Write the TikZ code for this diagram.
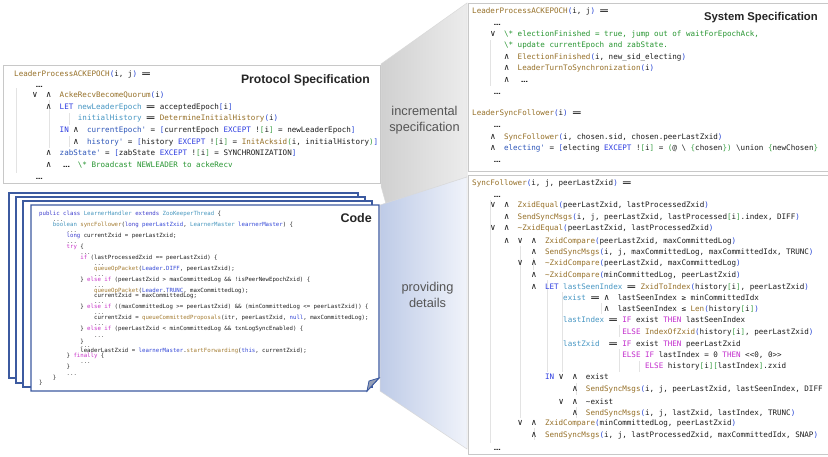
\documentclass[tikz,border=0pt]{standalone}
\usepackage{fontspec}
\usepackage{graphicx}
\setmonofont{DejaVu Sans Mono}
\newfontfamily\titlef{Liberation Sans}

\definecolor{txc}{RGB}{30,30,30}
\definecolor{opc}{RGB}{150,112,40}
\definecolor{parc}{RGB}{45,75,215}
\definecolor{brk2}{RGB}{60,160,70}
\definecolor{kwc}{RGB}{45,60,225}
\definecolor{ifc}{RGB}{195,45,205}
\definecolor{locc}{RGB}{70,150,195}
\definecolor{pvc}{RGB}{45,85,185}
\definecolor{cmc}{RGB}{40,150,50}
\definecolor{gA}{RGB}{208,208,208}
\definecolor{gB}{RGB}{236,236,236}
\definecolor{bA}{RGB}{190,203,231}
\definecolor{bB}{RGB}{240,243,250}
\definecolor{pagec}{RGB}{60,90,160}
\definecolor{foldc}{RGB}{150,160,182}
\definecolor{boxc}{RGB}{200,200,200}
\definecolor{lblc}{RGB}{85,85,85}
\definecolor{jkc}{RGB}{60,60,205}
\definecolor{jtc}{RGB}{70,150,190}
\definecolor{jfc}{RGB}{165,125,50}
\definecolor{jcc}{RGB}{200,50,200}
\definecolor{jbc}{RGB}{50,70,215}

\newlength\tcw
\setlength\tcw{4.55pt}
\newcommand\tOp[1]{\textcolor{opc}{#1}}
\newcommand\tKw[1]{\textcolor{kwc}{#1}}
\newcommand\tLc[1]{\textcolor{locc}{#1}}
\newcommand\tPv[1]{\textcolor{pvc}{#1}}
\newcommand\tCm[1]{\textcolor{cmc}{#1}}
\newcommand\tIf[1]{\textcolor{ifc}{#1}}
\newcommand\tLp{\textcolor{parc}{(}}
\newcommand\tRp{\textcolor{parc}{)}}
\newcommand\tLb{\textcolor{parc}{[}}
\newcommand\tRb{\textcolor{parc}{]}}
\newcommand\tGl{\textcolor{brk2}{[}}
\newcommand\tGr{\textcolor{brk2}{]}}
\newcommand\tGp{\textcolor{brk2}{(}}
\newcommand\tGq{\textcolor{brk2}{)}}
\newcommand\tGb{\textcolor{brk2}{\{}}
\newcommand\tGc{\textcolor{brk2}{\}}}
\newcommand\tV{\makebox[3\tcw][l]{\scalebox{1.15}{∨}}}
\newcommand\tA{\makebox[3\tcw][l]{\scalebox{1.15}{∧}}}
\newcommand\tEQ{\makebox[2\tcw][c]{\bfseries\scalebox{2}[1]{=}}}
\newcommand\tDots{\makebox[3\tcw][c]{\scalebox{1.5}[1]{…}}}
\newcommand\jK[1]{\textcolor{jkc}{#1}}
\newcommand\jT[1]{\textcolor{jtc}{#1}}
\newcommand\jF[1]{\textcolor{jfc}{#1}}
\newcommand\jC[1]{\textcolor{jcc}{#1}}
\newcommand\jB[1]{\textcolor{jbc}{#1}}

\newcommand\pLine[4]{\node[tla] (#1) at ({14+#2*4.55},#3) {#4};}
\newcommand\sLine[4]{\node[tla] (#1) at ({472+#2*4.55},#3) {#4};}
\newcommand\jLine[4]{\node[java] (#1) at ({39+#2*3.43},#3) {#4};}
\newcommand\jDots[3]{\node[jdots] (#1) at ({39+#2*3.43},{#3+0.6}) {...};}

\begin{document}
\begin{tikzpicture}[x=1pt,y=-1pt,
  tla/.style={font=\ttfamily\fontsize{7.56}{9}\selectfont, text=txc, inner sep=0pt, anchor=west, text height=5.6pt, text depth=1.6pt},
  java/.style={font=\ttfamily\fontsize{5.7}{7}\selectfont, text=txc, inner sep=0pt, anchor=west, text height=3.7pt, text depth=0.9pt},
  jdots/.style={font=\ttfamily\fontsize{5.7}{7}\selectfont, text=txc!80, inner sep=0pt, anchor=base west},
  boxline/.style={draw=boxc, line width=0.8pt},
  guide/.style={draw=gray!22, line width=0.5pt},
  page/.style={draw=pagec, fill=white, line width=1.1pt},
  ttl/.style={font=\titlef\bfseries, text=black!85, inner sep=0pt, text height=9pt, text depth=0pt},
  lbl/.style={font=\titlef\fontsize{12.8}{16}\selectfont, text=lblc, align=center, inner sep=0pt}
]
\useasboundingbox (0,0) rectangle (828,456);
\fill[white] (0,0) rectangle (828,456);

% connecting regions
\path[draw=gray!30, line width=0.5pt, left color=gA, right color=gB]
  (381,64) -- (467,3) -- (467,177) -- (386,204) -- (381,186) -- cycle;
\path[draw=gray!30, line width=0.5pt, left color=bA, right color=bB]
  (380,205) -- (467,177) -- (467,449) -- (380,391) -- cycle;
\node[lbl] (inc) at (424.5,120) {incremental\\specification};
\node[lbl] (prov) at (427.5,295) {providing\\details};

% protocol specification box
\draw[boxline, fill=white] (3,65) rectangle (380,183);
\draw[guide] (16,88) -- (16,173);
\draw[guide] (49,100) -- (49,148);
\draw[guide] (69,113) -- (69,125);
\draw[guide] (69,136) -- (69,147);
\node[ttl, anchor=east, font=\titlef\bfseries\fontsize{12.2}{14}\selectfont] (pst) at (370,79) {Protocol Specification};
\pLine{p1}{0}{74}{\tOp{LeaderProcessACKEPOCH}\tLp i, j\tRp\ \tEQ}
\pLine{p2}{4}{85}{\tDots}
\pLine{p3}{4}{95}{\tV\tA\tOp{AckeRecvBecomeQuorum}\tLp i\tRp}
\pLine{p4}{7}{107}{\tA\tKw{LET} \tLc{newLeaderEpoch} \tEQ\ acceptedEpoch\tLb i\tRb}
\pLine{p5}{14}{118}{\tLc{initialHistory} \tEQ\ \tOp{DetermineInitialHistory}\tLp i\tRp}
\pLine{p6}{10}{130}{\tKw{IN} \tA\tPv{currentEpoch'} = \tLb currentEpoch \tKw{EXCEPT} !\tGl i\tGr{} = newLeaderEpoch\tRb}
\pLine{p7}{13}{142}{\tA\tPv{history'} = \tLb history \tKw{EXCEPT} !\tGl i\tGr{} = \tOp{InitAcksid}\tGp i, initialHistory\tGq\tRb}
\pLine{p8}{7}{153}{\tA\tPv{zabState'} = \tLb zabState \tKw{EXCEPT} !\tGl i\tGr{} = SYNCHRONIZATION\tRb}
\pLine{p9}{7}{165}{\tA\tDots\ \tCm{\textbackslash* Broadcast NEWLEADER to ackeRecv}}
\pLine{p10}{4}{177}{\tDots}

% code pages
\draw[page] (9,193) rectangle (358,378);
\draw[page] (16,197) rectangle (365,383);
\draw[page] (23,201) rectangle (372,387);
\draw[page] (31,205) -- (379,205) -- (379,378) -- (367,391) -- (31,391) -- cycle;
\draw[page, fill=foldc, line width=0.8pt] (379,378) -- (369,381) -- (367,391) -- cycle;
\node[ttl, anchor=east, font=\titlef\bfseries\fontsize{12.5}{14}\selectfont] (codet) at (372,218) {Code};

\jLine{j0}{0}{214}{\jK{public class} \jT{LearnerHandler} \jK{extends} \jT{ZooKeeperThread} \{}
\jDots{jd1}{4}{221}
\jLine{j2}{4}{225}{\jT{boolean} \jF{syncFollower}(\jK{long} \jB{peerLastZxid}, \jT{LearnerMaster} \jB{learnerMaster}) \{}
\jDots{jd2}{8}{232}
\jLine{j4}{8}{236}{\jK{long} currentZxid = peerLastZxid;}
\jDots{jd3}{8}{243}
\jLine{j6}{8}{247}{\jC{try} \{}
\jDots{jd4}{12}{254}
\jLine{j8}{12}{258}{\jC{if} (lastProcessedZxid == peerLastZxid) \{}
\jDots{jd5}{16}{265}
\jLine{j10}{16}{269}{\jF{queueOpPacket}(\jB{Leader}.\jB{DIFF}, peerLastZxid);}
\jDots{jd6}{16}{276}
\jLine{j12}{12}{280}{\} \jC{else if} (peerLastZxid > maxCommittedLog \&\& !isPeerNewEpochZxid) \{}
\jDots{jd7}{16}{287}
\jLine{j14}{16}{291}{\jF{queueOpPacket}(\jB{Leader}.\jB{TRUNC}, maxCommittedLog);}
\jLine{j15}{16}{296}{currentZxid = maxCommittedLog;}
\jDots{jd8}{16}{303}
\jLine{j17}{12}{307}{\} \jC{else if} ((maxCommittedLog >= peerLastZxid) \&\& (minCommittedLog <= peerLastZxid)) \{}
\jDots{jd9}{16}{314}
\jLine{j19}{16}{318}{currentZxid = \jF{queueCommittedProposals}(itr, peerLastZxid, \jB{null}, maxCommittedLog);}
\jDots{jd10}{16}{325}
\jLine{j21}{12}{329}{\} \jC{else if} (peerLastZxid < minCommittedLog \&\& txnLogSyncEnabled) \{}
\jDots{jd11}{16}{337}
\jLine{j23}{12}{342}{\}}
\jDots{jd12}{12}{347}
\jLine{j25}{12}{351}{leaderLastZxid = \jB{learnerMaster}.\jF{startForwarding}(\jB{this}, currentZxid);}
\jLine{j26}{8}{356.5}{\} \jC{finally} \{}
\jDots{jd13}{12}{363}
\jLine{j28}{8}{367}{\}}
\jDots{jd14}{8}{375}
\jLine{j30}{4}{378.5}{\}}
\jLine{j31}{0}{383.5}{\}}

% system specification, top box
\fill[white] (468,3) rectangle (828.5,171);
\draw[boxline] (829,3) -- (468,3) -- (468,171) -- (829,171);
\draw[guide] (490,40) -- (490,86);
\node[ttl, anchor=east, font=\titlef\bfseries\fontsize{11.3}{13}\selectfont] (sst) at (818,16) {System Specification};
\sLine{s1}{0}{11}{\tOp{LeaderProcessACKEPOCH}\tLp i, j\tRp\ \tEQ}
\sLine{s2}{4}{23}{\tDots}
\sLine{s3}{4}{34}{\tV\tCm{\textbackslash* electionFinished = true, jump out of waitForEpochAck,}}
\sLine{s4}{7}{45}{\tCm{\textbackslash* update currentEpoch and zabState.}}
\sLine{s5}{7}{57}{\tA\tOp{ElectionFinished}\tLp i, new\_sid\_electing\tRp}
\sLine{s6}{7}{68}{\tA\tOp{LeaderTurnToSynchronization}\tLp i\tRp}
\sLine{s7}{7}{80}{\tA\tDots}
\sLine{s8}{4}{92}{\tDots}
\sLine{s9}{0}{113}{\tOp{LeaderSyncFollower}\tLp i\tRp\ \tEQ}
\sLine{s10}{4}{125}{\tDots}
\sLine{s11}{4}{137}{\tA\tOp{SyncFollower}\tLp i, chosen.sid, chosen.peerLastZxid\tRp}
\sLine{s12}{4}{148}{\tA\tPv{electing'} = \tLb electing \tKw{EXCEPT} !\tGl i\tGr{} = \tGp @ \textbackslash{} \tGb chosen\tGc\tGq{} \textbackslash union \tGb newChosen\tGc}
\sLine{s13}{4}{160}{\tDots}

% system specification, bottom box
\fill[white] (468,175) rectangle (828.5,454);
\draw[boxline] (829,175) -- (468,175) -- (468,454) -- (829,454);
\draw[guide] (490,200) -- (490,443);
\draw[guide] (520,246) -- (520,418);
\draw[guide] (533,258) -- (533,270);
\draw[guide] (547,280) -- (547,372);
\draw[guide] (562,292) -- (562,372);
\draw[guide] (601,303) -- (601,314);
\draw[guide] (619,325) -- (619,337);
\draw[guide] (619,349) -- (619,372);
\draw[guide] (639,361) -- (639,372);
\draw[guide] (576,383) -- (576,395);
\draw[guide] (576,407) -- (576,418);
\draw[guide] (534,428) -- (534,440);
\sLine{b1}{0}{183}{\tOp{SyncFollower}\tLp i, j, peerLastZxid\tRp\ \tEQ}
\sLine{b2}{4}{195}{\tDots}
\sLine{b3}{4}{205}{\tV\tA\tOp{ZxidEqual}\tLp peerLastZxid, lastProcessedZxid\tRp}
\sLine{b4}{7}{217}{\tA\tOp{SendSyncMsgs}\tLp i, j, peerLastZxid, lastProcessed\tGl i\tGr.index, DIFF\tRp}
\sLine{b5}{4}{228}{\tV\tA\tOp{\textasciitilde ZxidEqual}\tLp peerLastZxid, lastProcessedZxid\tRp}
\sLine{b6}{7}{241}{\tA\tV\tA\tOp{ZxidCompare}\tLp peerLastZxid, maxCommittedLog\tRp}
\sLine{b7}{13}{252}{\tA\tOp{SendSyncMsgs}\tLp i, j, maxCommittedLog, maxCommittedIdx, TRUNC\tRp}
\sLine{b8}{10}{263}{\tV\tA\tOp{\textasciitilde ZxidCompare}\tLp peerLastZxid, maxCommittedLog\tRp}
\sLine{b9}{13}{275}{\tA\tOp{\textasciitilde ZxidCompare}\tLp minCommittedLog, peerLastZxid\tRp}
\sLine{b10}{13}{287}{\tA\tKw{LET} \tLc{lastSeenIndex} \tEQ\ \tOp{ZxidToIndex}\tLp history\tGl i\tGr, peerLastZxid\tRp}
\sLine{b11}{20}{298}{\tLc{exist} \tEQ\ \tA lastSeenIndex ≥ minCommittedIdx}
\sLine{b12}{29}{309}{\tA lastSeenIndex ≤ \tOp{Len}\tLp history\tGl i\tGr\tRp}
\sLine{b13}{20}{320}{\tLc{lastIndex} \tEQ\ \tIf{IF} exist \tIf{THEN} lastSeenIndex}
\sLine{b14}{33}{332}{\tIf{ELSE} \tOp{IndexOfZxid}\tLp history\tGl i\tGr, peerLastZxid\tRp}
\sLine{b15}{20}{344}{\tLc{lastZxid}\ \ \tEQ\ \tIf{IF} exist \tIf{THEN} peerLastZxid}
\sLine{b16}{33}{355}{\tIf{ELSE} \tIf{IF} lastIndex = 0 \tIf{THEN} <{}<0, 0>{}>}
\sLine{b17}{38}{366}{\tIf{ELSE} history\tGl i\tGr\tGl lastIndex\tGr.zxid}
\sLine{b18}{16}{377}{\tKw{IN} \tV\tA exist}
\sLine{b19}{22}{389}{\tA\tOp{SendSyncMsgs}\tLp i, j, peerLastZxid, lastSeenIndex, DIFF}
\sLine{b20}{19}{402}{\tV\tA\textasciitilde exist}
\sLine{b21}{22}{413}{\tA\tOp{SendSyncMsgs}\tLp i, j, lastZxid, lastIndex, TRUNC\tRp}
\sLine{b22}{10}{423}{\tV\tA\tOp{ZxidCompare}\tLp minCommittedLog, peerLastZxid\tRp}
\sLine{b23}{13}{435}{\tA\tOp{SendSyncMsgs}\tLp i, j, lastProcessedZxid, maxCommittedIdx, SNAP\tRp}
\sLine{b24}{4}{448}{\tDots}
\end{tikzpicture}
\end{document}
